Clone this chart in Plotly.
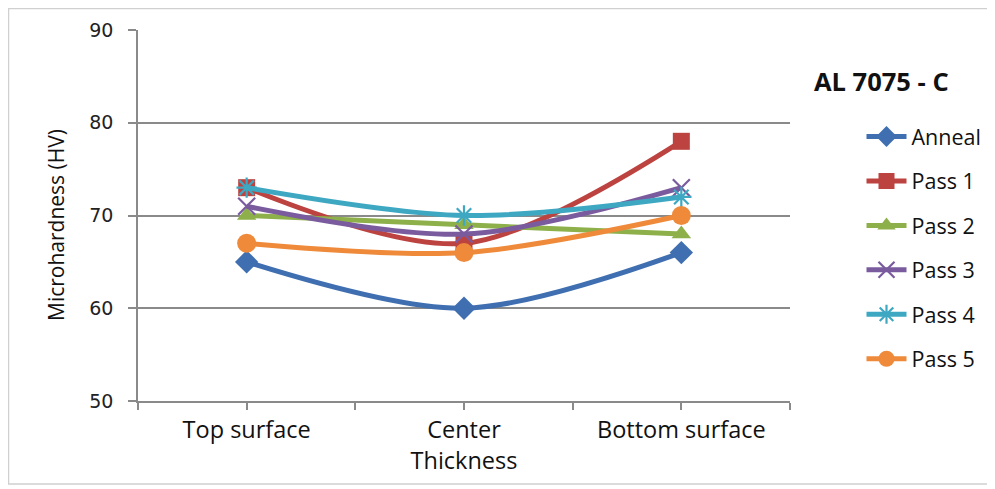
import plotly.graph_objects as go

categories = ["Top surface", "Center<br>Thickness", "Bottom surface"]
series_names = ["Anneal", "Pass 1", "Pass 2", "Pass 3", "Pass 4", "Pass 5"]
anneal = [65, 60, 66]
pass1 = [73, 67, 78]
pass2 = [70, 69, 68]
pass3 = [71, 68, 73]
pass4 = [73, 70, 72]
pass5 = [67, 66, 70]
y_ticks = [50, 60, 70, 80, 90]

values = [anneal, pass1, pass2, pass3, pass4, pass5]
colors = ["#3F6FB0", "#BC4340", "#8DB04A", "#7A5B9E", "#3EA8C2", "#EE8A3A"]
symbols = ["diamond", "square", "triangle-up", "x-thin-open", "asterisk-open", "circle"]
sizes = [18, 17, 17, 17, 17, 19]

x_pos = list(range(len(categories)))


def px(xp):
    return (xp - 138) / 652


def py(yp):
    return (401 - yp) / 371


# the page adds an 8px body margin; plot area targets page px x 138-790, y 30-401
fig = go.Figure()
for i, (name, vals) in enumerate(zip(series_names, values)):
    open_marker = symbols[i].endswith("open")
    fig.add_trace(go.Scatter(
        x=x_pos, y=vals, name=name, mode="lines+markers",
        legendgroup=name,
        line=dict(color=colors[i], width=5, shape="spline", smoothing=0.9),
        marker=dict(symbol=symbols[i], size=sizes[i], color=colors[i],
                    line=dict(color=colors[i], width=2.2 if open_marker else 0)),
    ))

fig.update_layout(
    width=995, height=489,
    margin=dict(l=130, r=213, t=22, b=96),
    paper_bgcolor="white", plot_bgcolor="white",
    font=dict(family="Open Sans, sans-serif", color="#111111"),
    showlegend=True,
    legend=dict(x=px(861.5), y=py(116), xanchor="left", yanchor="top",
                font=dict(size=21.5, family="Open Sans, sans-serif", color="#111111"),
                traceorder="grouped", tracegroupgap=13.5, itemwidth=40,
                bgcolor="rgba(0,0,0,0)"),
    xaxis=dict(
        range=[-0.5, 2.5], tickmode="array", tickvals=x_pos, ticktext=categories,
        ticks="outside", ticklen=7, tickcolor="#8a8a8a", tickwidth=1.5,
        showline=True, linecolor="#8a8a8a", linewidth=1.5,
        showgrid=False, zeroline=False,
        tickfont=dict(size=23.5, family="Open Sans, sans-serif", color="#111111"),
        minor=dict(tickmode="array", tickvals=[-0.5, 0.5, 1.5, 2.5],
                   ticks="outside", ticklen=7, tickcolor="#8a8a8a", tickwidth=1.5),
    ),
    yaxis=dict(
        range=[50, 90], tickmode="array", tickvals=y_ticks,
        ticks="outside", ticklen=8, tickcolor="#8a8a8a", tickwidth=1.5,
        showline=True, linecolor="#8a8a8a", linewidth=1.5,
        showgrid=True, gridcolor="#8a8a8a", gridwidth=1.5, zeroline=False,
        tickfont=dict(size=19, family="DejaVu Sans, sans-serif", color="#222222"),
        ticklabelstandoff=11,
    ),
    annotations=[
        dict(text="<b>AL 7075 - C</b>", xref="paper", yref="paper",
             x=px(812), y=py(81), xanchor="left", yanchor="middle",
             showarrow=False, font=dict(size=25.5, family="Open Sans, sans-serif", color="#111111")),
        dict(text="Microhardness (HV)", xref="paper", yref="paper",
             x=px(56), y=py(225), xanchor="center", yanchor="middle", textangle=-90,
             showarrow=False, font=dict(size=21, family="Open Sans, sans-serif", color="#111111")),
    ],
    shapes=[dict(
        type="rect", xref="paper", yref="paper",
        x0=px(8.5), x1=px(991), y0=py(484), y1=py(8.5),
        line=dict(color="#d0d0d0", width=1.5), fillcolor="rgba(0,0,0,0)", layer="below",
    )],
)

fig.write_html("out.html")
